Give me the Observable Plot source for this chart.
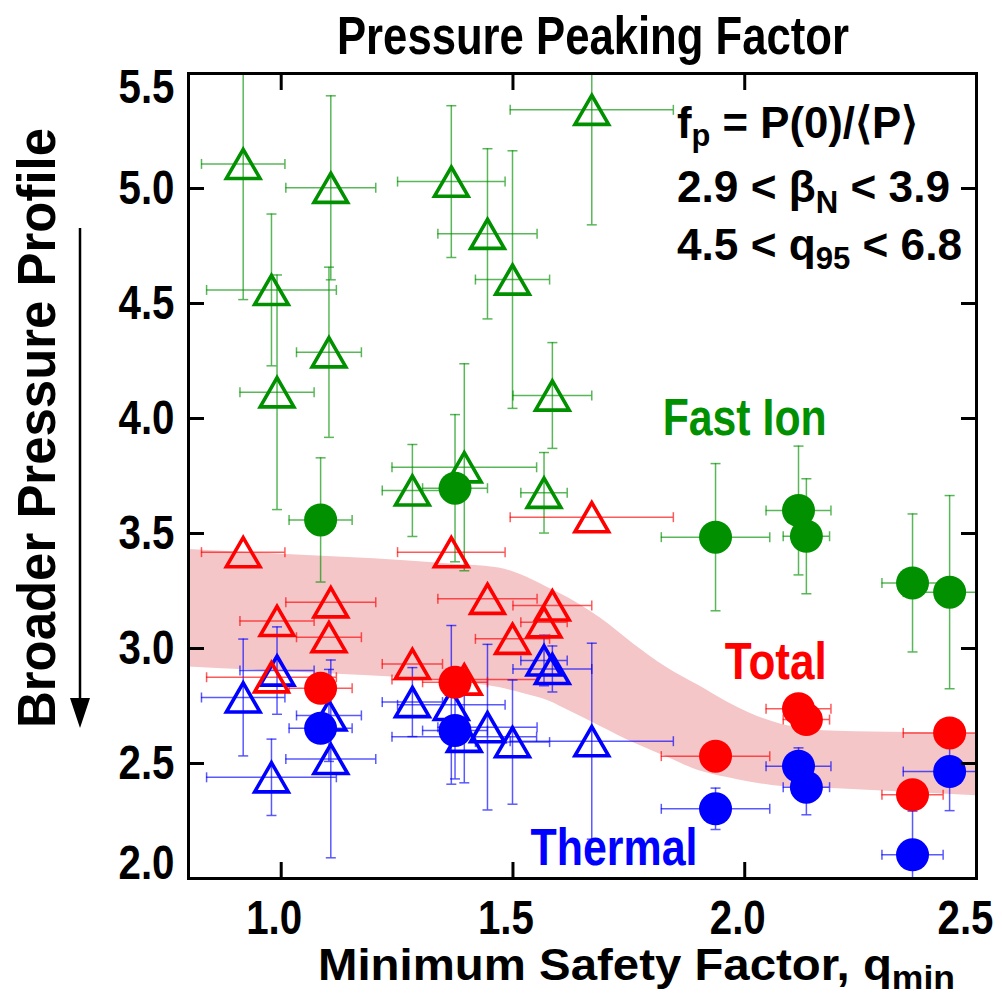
<!DOCTYPE html>
<html><head><meta charset="utf-8">
<script src="https://cdn.jsdelivr.net/npm/d3@7"></script>
<script src="https://cdn.jsdelivr.net/npm/@observablehq/plot@0.6"></script>
<style>html,body{margin:0;padding:0;background:#fff;} #chart svg{display:block}</style>
</head><body><div id="chart"></div>
<script>
// ---- data ----
// open-triangle discharges: q_min and its uncertainty
const triQmin    = [0.918, 0.979, 0.991, 1.103, 1.107, 1.283, 1.367, 1.395, 1.445, 1.499, 1.567, 1.585, 1.670];
const triQminErr = [0.09, 0.14, 0.08, 0.07, 0.097, 0.065, 0.116, 0.156, 0.107, 0.08, 0.05, 0.085, 0.176];
const fastTri    = [5.107, 4.559, 4.114, 4.288, 5.003, 3.687, 5.030, 3.788, 4.803, 4.604, 3.677, 4.100, 5.342];
const fastTriErr = [0.59, 0.33, 0.51, 0.37, 0.40, 0.20, 0.33, 0.45, 0.37, 0.56, 0.175, 0.23, 0.50];
const totalTri   = [3.419, 2.875, 3.120, 3.049, 3.201, 2.933, 3.419, 2.865, 3.216, 3.042, 3.114, 3.187, 3.571];
const thermTri   = [2.787, 2.440, 2.904, 2.709, 2.520, 2.767, 2.755, 2.616, 2.658, 2.593, 2.948, 2.911, 2.597];
const thermTriErr= [0.254, 0.166, 0.19, 0.2, 0.43, 0.15, 0.345, 0.2, 0.36, 0.27, 0.11, 0.10, 0.426];
// filled-circle discharges
const circQmin    = [1.085, 1.375, 1.937, 2.116, 2.133, 2.362, 2.442];
const circQminErr = [0.068, 0.07, 0.117, 0.07, 0.05, 0.066, 0.10];
const fastCirc    = [3.559, 3.697, 3.484, 3.600, 3.488, 3.285, 3.245];
const fastCircErr = [0.27, 0.32, 0.32, 0.28, 0.25, 0.30, 0.42];
const totalCirc   = [2.827, 2.853, 2.532, 2.738, 2.691, 2.364, 2.633];
const thermCirc   = [2.653, 2.643, 2.303, 2.488, 2.397, 2.103, 2.465];
const thermCircErr= [0.06, 0.21, 0.09, 0.08, 0.12, 0.19, 0.17];
// shaded trend band for the total
const bandQmin = [0.8, 1.0, 1.2, 1.35, 1.47, 1.53, 1.58, 1.62, 1.69, 1.76, 1.83, 1.9, 1.96, 2.01, 2.08, 2.2, 2.35, 2.5];
const bandHi   = [3.43, 3.41, 3.39, 3.37, 3.35, 3.31, 3.26, 3.22, 3.13, 3.02, 2.92, 2.84, 2.77, 2.72, 2.67, 2.64, 2.635, 2.63];
const bandLo   = [2.92, 2.90, 2.88, 2.86, 2.83, 2.80, 2.77, 2.73, 2.66, 2.59, 2.53, 2.47, 2.44, 2.42, 2.40, 2.39, 2.375, 2.36];
// tick labels
const xTicks = [1.0, 1.5, 2.0, 2.5];
const yTicks = [2.0, 2.5, 3.0, 3.5, 4.0, 4.5, 5.0, 5.5];

// ---- styling ----
const GREEN = "#009000", RED = "#ff0000", BLUE = "#0000ff", PINK = "#f4c6c8";
const FONT = '"Liberation Sans Narrow", "Arial Narrow", "Liberation Sans", Arial, sans-serif';

function series(xs, ys, xe, ye, color) {
  return xs.map((x, i) => ({x, y: ys[i], xe: xe[i], ye: ye ? ye[i] : null, color}));
}
const tris = [
  ...series(triQmin, fastTri, triQminErr, fastTriErr, GREEN),
  ...series(triQmin, thermTri, triQminErr, thermTriErr, BLUE),
  ...series(triQmin, totalTri, triQminErr, null, RED)
];
const circs = [
  ...series(circQmin, fastCirc, circQminErr, fastCircErr, GREEN),
  ...series(circQmin, thermCirc, circQminErr, thermCircErr, BLUE),
  ...series(circQmin, totalCirc, circQminErr, null, RED)
];
const all = [...tris, ...circs];
const vBars = all.filter(d => d.ye != null).map(d => ({x: d.x, y1: d.y - d.ye, y2: d.y + d.ye, color: d.color}));
const hBars = all.map(d => ({y: d.y, x1: d.x - d.xe, x2: d.x + d.xe, color: d.color}));
const vCaps = vBars.flatMap(b => [{x: b.x, y: b.y1, color: b.color}, {x: b.x, y: b.y2, color: b.color}]);
const hCaps = hBars.flatMap(b => [{x: b.x1, y: b.y, color: b.color}, {x: b.x2, y: b.y, color: b.color}]);
const band = bandQmin.map((x, i) => ({x, lo: bandLo[i], hi: bandHi[i]}));

const hLine = {draw(ctx, size) { const r = Math.sqrt(size / Math.PI); ctx.moveTo(-r, 0); ctx.lineTo(r, 0); }};
const vLine = {draw(ctx, size) { const r = Math.sqrt(size / Math.PI); ctx.moveTo(0, -r); ctx.lineTo(0, r); }};

const barStyle = {stroke: "color", strokeWidth: 1.5, strokeOpacity: 0.65, clip: "frame"};
const tickLab = {fontSize: 48, fontWeight: "bold", label: null, tickFormat: d3.format(".1f")};
const TRI_R = 12.5;

const svg = Plot.plot({
  width: 1002, height: 996,
  marginLeft: 188, marginRight: 26, marginTop: 73, marginBottom: 118,
  x: {domain: [0.8, 2.5], label: null},
  y: {domain: [2.0, 5.5], label: null},
  style: {fontFamily: FONT, fontWeight: "bold", background: "#fff", color: "#000"},
  marks: [
    Plot.areaY(band, {x: "x", y1: "lo", y2: "hi", fill: PINK, curve: "monotone-x"}),
    Plot.ruleX(vBars, {x: "x", y1: "y1", y2: "y2", ...barStyle}),
    Plot.ruleY(hBars, {y: "y", x1: "x1", x2: "x2", ...barStyle}),
    Plot.dot(vCaps, {x: "x", y: "y", symbol: hLine, r: 5, fill: "none", ...barStyle}),
    Plot.dot(hCaps, {x: "x", y: "y", symbol: vLine, r: 5, fill: "none", ...barStyle}),
    Plot.dot(tris, {x: "x", y: "y", symbol: "triangle", r: TRI_R, dy: TRI_R * 0.3888, stroke: "color", strokeWidth: 3.6, fill: "none"}),
    Plot.dot(circs, {x: "x", y: "y", r: 16.5, fill: "color", stroke: "none"}),
    Plot.frame({strokeWidth: 3, stroke: "#000"}),
    // inward ticks on all four sides
    Plot.axisX({anchor: "bottom", ticks: xTicks.slice(0, 3), tickSize: -16, strokeWidth: 3, fill: "none", label: null}),
    Plot.axisX({anchor: "top", ticks: xTicks.slice(0, 3), tickSize: -16, strokeWidth: 3, fill: "none", label: null}),
    Plot.axisY({anchor: "left", ticks: yTicks.slice(1, 7), tickSize: -16, strokeWidth: 3, fill: "none", label: null}),
    Plot.axisY({anchor: "right", ticks: yTicks.slice(1, 7), tickSize: -16, strokeWidth: 3, fill: "none", label: null}),
    // tick labels
    Plot.axisX({anchor: "bottom", ticks: xTicks.slice(0, 3), tickSize: 0, tickPadding: 21, dx: -7, ...tickLab}),
    Plot.axisX({anchor: "bottom", ticks: xTicks.slice(3), tickSize: 0, tickPadding: 21, dx: -11, ...tickLab}),
    Plot.axisY({anchor: "left", ticks: yTicks.slice(1, 7), tickSize: 0, tickPadding: 14, ...tickLab}),
    Plot.axisY({anchor: "left", ticks: yTicks.slice(7), tickSize: 0, tickPadding: 14, dy: 14, ...tickLab}),
    Plot.axisY({anchor: "left", ticks: yTicks.slice(0, 1), tickSize: 0, tickPadding: 14, dy: -15, ...tickLab})
  ]
});
document.getElementById("chart").appendChild(svg);

// condensed tick labels, as in the reference
d3.select(svg).selectAll('g[aria-label="x-axis tick label"] text, g[aria-label="y-axis tick label"] text')
  .attr("textLength", 56).attr("lengthAdjust", "spacingAndGlyphs");

// ---- annotations through the plot's scales ----
const sx = svg.scale("x"), sy = svg.scale("y");
const g = d3.select(svg).append("g").attr("font-family", FONT).attr("font-weight", "bold");

function label(parts, x, y, size, len, color, anchor = "start", rotate = false) {
  const t = g.append("text").attr("fill", color).attr("font-size", size)
    .attr("text-anchor", anchor).attr("textLength", len).attr("lengthAdjust", "spacingAndGlyphs");
  if (rotate) t.attr("transform", `translate(${x},${y}) rotate(-90)`); else t.attr("x", x).attr("y", y);
  let reset = 0;
  for (const p of parts) {
    if (typeof p === "string") {
      const s = t.append("tspan").text(p);
      if (reset) { s.attr("dy", reset); reset = 0; }
    } else {
      t.append("tspan").attr("font-size", p.size).attr("dy", p.dy).text(p.sub);
      reset = -p.dy;
    }
  }
  return t;
}
// title & axis titles
label(["Pressure Peaking Factor"], 593, 54, 53, 512, "#000", "middle");
label(["Minimum Safety Factor, q", {sub: "min", size: 33, dy: 9}], 318, 980, 44, 637, "#000");
label(["Broader Pressure Profile"], 55, 428, 53, 600, "#000", "middle", true);
// arrow next to the y title
g.append("line").attr("x1", 80).attr("x2", 80).attr("y1", 228).attr("y2", 705).attr("stroke", "#000").attr("stroke-width", 2.5);
g.append("path").attr("d", "M70,698 L90,698 L80,728 Z").attr("fill", "#000");
// species labels
label(["Fast Ion"], sx.apply(1.824), sy.apply(3.926), 52, 164, GREEN);
label(["Total"], sx.apply(1.958), sy.apply(2.865), 52, 102, RED);
label(["Thermal"], sx.apply(1.539), sy.apply(2.057), 52, 167, BLUE);
// parameter block
label(["f", {sub: "p", size: 31, dy: 8}, " = P(0)/\u27e8P\u27e9"], 677, 138, 44, 241, "#000");
label(["2.9 < \u03b2", {sub: "N", size: 31, dy: 11}, " < 3.9"], 677, 202, 44, 273, "#000");
label(["4.5 < q", {sub: "95", size: 31, dy: 9}, " < 6.8"], 677, 260, 44, 285, "#000");
</script>
</body></html>
